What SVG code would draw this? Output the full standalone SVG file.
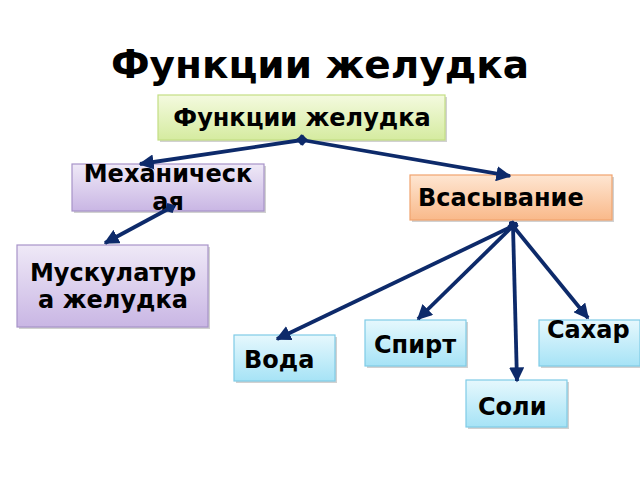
<svg xmlns="http://www.w3.org/2000/svg" width="640" height="480" viewBox="0 0 640 480">
<defs>
<linearGradient id="gGreen" x1="0" y1="0" x2="0" y2="1"><stop offset="0" stop-color="#f4fadf"/><stop offset="1" stop-color="#d5eba0"/></linearGradient>
<linearGradient id="gPurple" x1="0" y1="0" x2="0" y2="1"><stop offset="0" stop-color="#efe9f7"/><stop offset="1" stop-color="#c9b6e4"/></linearGradient>
<linearGradient id="gOrange" x1="0" y1="0" x2="0" y2="1"><stop offset="0" stop-color="#fee6d2"/><stop offset="1" stop-color="#f9b98a"/></linearGradient>
<linearGradient id="gBlue" x1="0" y1="0" x2="0" y2="1"><stop offset="0" stop-color="#e6f8fd"/><stop offset="1" stop-color="#a6e3f6"/></linearGradient>
<marker id="arr" viewBox="0 0 10 10" refX="9" refY="5" markerWidth="4" markerHeight="4" orient="auto" markerUnits="strokeWidth"><path d="M0,0 L10,5 L0,10 z" fill="#0d2a6a"/></marker>
<marker id="dia" viewBox="0 0 10 10" refX="5" refY="5" markerWidth="3" markerHeight="3" orient="auto" markerUnits="strokeWidth"><path d="M0,5 L5,0 L10,5 L5,10 z" fill="#0d2a6a"/></marker>
</defs>
<style>
.t{font-family:"DejaVu Sans",sans-serif;font-weight:bold;fill:#000;font-size:24px}
.box{stroke-width:1.2}
.sh{fill:#000;opacity:0.18}
.c{stroke:#0d2a6a;stroke-width:3.8;fill:none;marker-end:url(#arr);marker-start:url(#dia)}
</style>
<rect width="640" height="480" fill="#fff"/>
<text class="t" x="320" y="78" style="font-size:39px" text-anchor="middle">Функции желудка</text>

<g id="n1">
<rect class="sh" x="160" y="97" width="287" height="45"/>
<rect class="box" x="158" y="95" width="287" height="45" fill="url(#gGreen)" stroke="#c3de84"/>
<text class="t" x="302" y="126" text-anchor="middle">Функции желудка</text>
</g>
<g id="n2">
<rect class="sh" x="74" y="166" width="192" height="47"/>
<rect class="box" x="72" y="164" width="192" height="47" fill="url(#gPurple)" stroke="#a793c8"/>
<text class="t" x="168" y="182" text-anchor="middle">Механическ</text>
<text class="t" x="168" y="210" text-anchor="middle">ая</text>
</g>
<g id="n3">
<rect class="sh" x="412" y="177" width="202" height="45"/>
<rect class="box" x="410" y="175" width="202" height="45" fill="url(#gOrange)" stroke="#f1a36e"/>
<text class="t" x="418" y="206">Всасывание</text>
</g>
<g id="n4">
<rect class="sh" x="19" y="247" width="191" height="82"/>
<rect class="box" x="17" y="245" width="191" height="82" fill="url(#gPurple)" stroke="#a793c8"/>
<text class="t" x="113" y="281" text-anchor="middle">Мускулатур</text>
<text class="t" x="113" y="308" text-anchor="middle">а желудка</text>
</g>
<g id="n5">
<rect class="sh" x="236" y="337" width="101" height="46"/>
<rect class="box" x="234" y="335" width="101" height="46" fill="url(#gBlue)" stroke="#7fcbe6"/>
<text class="t" x="244" y="368">Вода</text>
</g>
<g id="n6">
<rect class="sh" x="367" y="322" width="101" height="46"/>
<rect class="box" x="365" y="320" width="101" height="46" fill="url(#gBlue)" stroke="#7fcbe6"/>
<text class="t" x="374" y="353">Спирт</text>
</g>
<g id="n7">
<rect class="sh" x="541" y="322" width="101" height="46"/>
<rect class="box" x="539" y="320" width="101" height="46" fill="url(#gBlue)" stroke="#7fcbe6"/>
<text class="t" x="547" y="338">Сахар</text>
</g>
<g id="n8">
<rect class="sh" x="468" y="382" width="101" height="47"/>
<rect class="box" x="466" y="380" width="101" height="47" fill="url(#gBlue)" stroke="#7fcbe6"/>
<text class="t" x="478" y="415">Соли</text>
</g>

<g id="connectors">
<line class="c" x1="302" y1="140" x2="140" y2="164"/>
<line class="c" x1="302" y1="140" x2="510" y2="176"/>
<line class="c" x1="170" y1="208" x2="105" y2="243"/>
<line class="c" x1="513" y1="226" x2="277" y2="339"/>
<line class="c" x1="513" y1="226" x2="418" y2="319"/>
<line class="c" x1="513" y1="226" x2="517" y2="381"/>
<line class="c" x1="513" y1="226" x2="588" y2="318"/>
</g>
</svg>
